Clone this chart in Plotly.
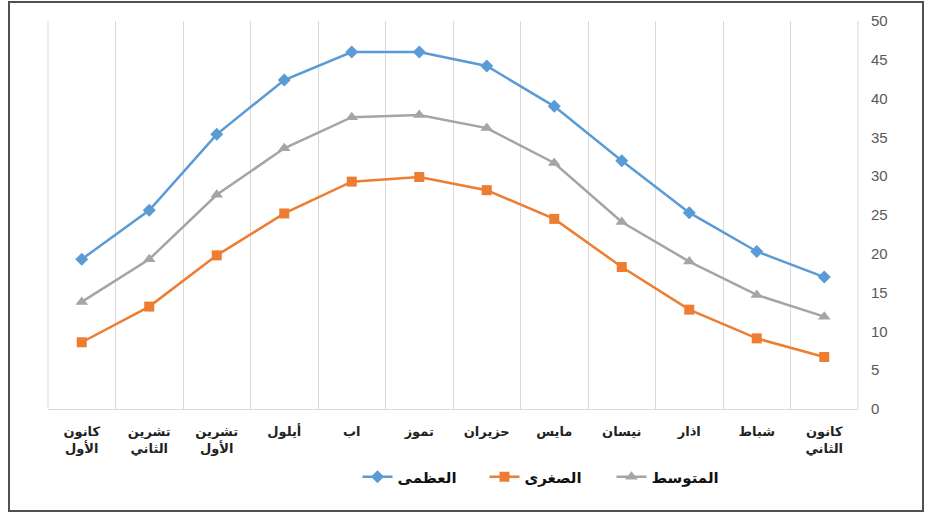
import plotly.graph_objects as go

months = ["كانون<br>الثاني", "شباط", "اذار", "نيسان", "مايس", "حزيران",
          "تموز", "اب", "أيلول", "تشرين<br>الأول", "تشرين<br>الثاني", "كانون<br>الأول"]
t_max = [17.0, 20.3, 25.3, 32.0, 39.0, 44.2, 46.0, 46.0, 42.4, 35.4, 25.6, 19.3]
t_min = [6.7, 9.1, 12.8, 18.3, 24.5, 28.2, 29.9, 29.3, 25.2, 19.8, 13.2, 8.6]
t_mean = [11.9, 14.7, 19.0, 24.1, 31.7, 36.2, 37.9, 37.6, 33.6, 27.6, 19.3, 13.8]
series_names = ["العظمى", "الصغرى", "المتوسط"]
y_ticks = [0, 5, 10, 15, 20, 25, 30, 35, 40, 45, 50]

fig = go.Figure()
fig.add_trace(go.Scatter(x=months, y=t_max, name=series_names[0], mode="lines+markers",
                         line=dict(color="#5b9bd5", width=2.5),
                         marker=dict(symbol="diamond", size=10, color="#5b9bd5")))
fig.add_trace(go.Scatter(x=months, y=t_min, name=series_names[1], mode="lines+markers",
                         line=dict(color="#ed7d31", width=2.5),
                         marker=dict(symbol="square", size=10, color="#ed7d31")))
fig.add_trace(go.Scatter(x=months, y=t_mean, name=series_names[2], mode="lines+markers",
                         line=dict(color="#a5a5a5", width=2.5),
                         marker=dict(symbol="triangle-up", size=11, color="#a5a5a5")))

W, H = 931, 513
L, R, T, B = 48, 73, 21, 104
pw, ph = W - L - R, H - T - B

def px(x):
    return (x - L) / pw

def py(y):
    return (H - B - y) / ph

fig.update_layout(
    width=W, height=H,
    margin=dict(l=L, r=R, t=T, b=B),
    paper_bgcolor="white", plot_bgcolor="white",
    showlegend=True,
    legend=dict(orientation="h", x=px(548), xanchor="center", y=py(477), yanchor="middle",
                font=dict(family="DejaVu Sans", size=15, color="#111", weight="bold"),
                entrywidth=82, entrywidthmode="pixels", traceorder="normal"),
    xaxis=dict(type="category", autorange=False, range=[11.5, -0.5],
               tickson="boundaries", showgrid=True, gridcolor="#d9d9d9", gridwidth=1,
               showline=True, linecolor="#d9d9d9", linewidth=1, ticks="",
               tickangle=0, automargin=False, ticklabelstandoff=10,
               tickfont=dict(family="DejaVu Sans", size=13, color="#222", weight="bold"),
               zeroline=False, fixedrange=True),
    yaxis=dict(side="right", range=[0, 50], tickvals=y_ticks, showgrid=False,
               zeroline=False, showline=False, ticks="", automargin=False,
               ticklabelstandoff=12,
               tickfont=dict(family="Liberation Sans", size=15, color="#595959")),
    shapes=[
        dict(type="line", xref="paper", yref="paper", x0=1, x1=1, y0=0, y1=1,
             line=dict(color="#d9d9d9", width=1), layer="below"),
        dict(type="line", xref="paper", yref="paper", x0=0, x1=0, y0=0, y1=1,
             line=dict(color="#d9d9d9", width=1), layer="below"),
        dict(type="rect", xref="paper", yref="paper",
             x0=px(9), x1=px(923), y0=py(511), y1=py(2),
             line=dict(color="#505050", width=2)),
    ],
)

fig.write_html("out.html", config={"displayModeBar": False},
               post_script="document.body.style.margin='0';")
